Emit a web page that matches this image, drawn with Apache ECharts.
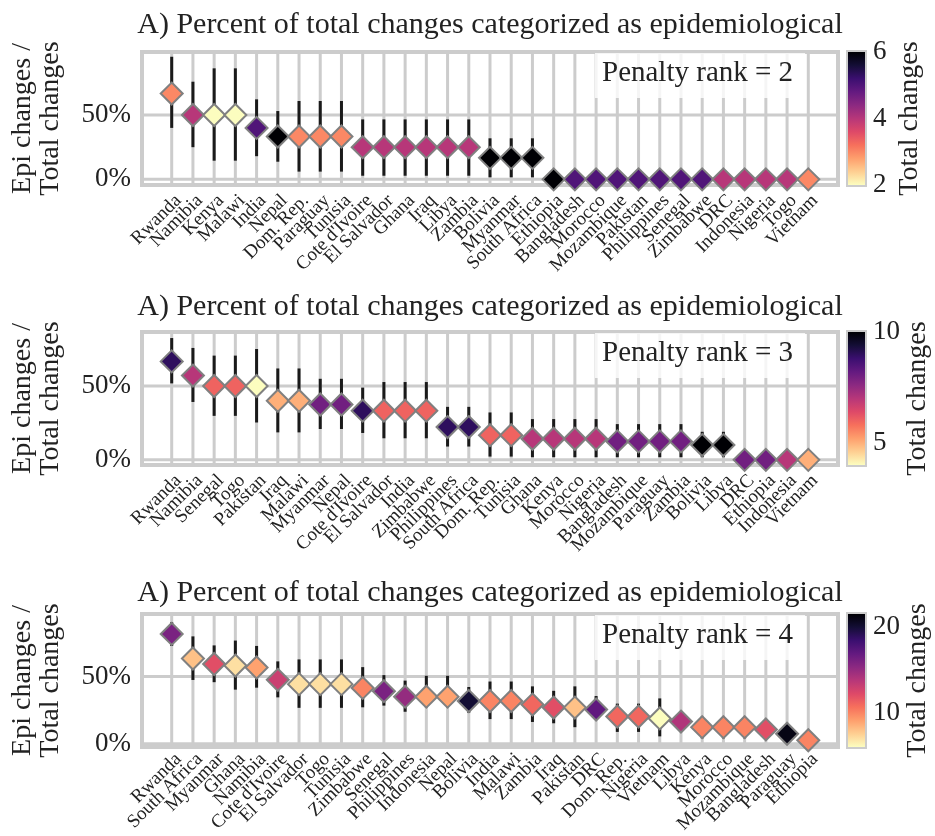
<!DOCTYPE html>
<html><head><meta charset="utf-8">
<script src="https://cdn.jsdelivr.net/npm/echarts@6/dist/echarts.min.js"></script>
<style>html,body{margin:0;padding:0;background:#fff}#c{width:935px;height:836px}</style>
</head><body><div id="c"></div>
<script>
// ---------- Panel 1 (Penalty rank = 2) ----------
const categories1 = ['Rwanda','Namibia','Kenya','Malawi','India','Nepal','Dom. Rep.','Paraguay','Tunisia',"Cote d'Ivoire",'El Salvador','Ghana','Iraq','Libya','Zambia','Bolivia','Myanmar','South Africa','Ethiopia','Bangladesh','Morocco','Mozambique','Pakistan','Philippines','Senegal','Zimbabwe','DRC','Indonesia','Nigeria','Togo','Vietnam'];
const epiShare1 = [0.667,0.5,0.5,0.5,0.4,0.333,0.333,0.333,0.333,0.25,0.25,0.25,0.25,0.25,0.25,0.167,0.167,0.167,0,0,0,0,0,0,0,0,0,0,0,0,0];
const total1 = [3,4,2,2,5,6,3,3,3,4,4,4,4,4,4,6,6,6,6,5,5,5,5,5,5,5,4,4,4,4,3];
const low1 = [0.40,0.25,0.145,0.145,0.18,0.137,0.06,0.06,0.06,0.028,0.028,0.028,0.028,0.028,0.028,0.016,0.016,0.016,0,0,0,0,0,0,0,0,0,0,0,0,0];
const high1 = [0.953,0.759,0.863,0.863,0.622,0.531,0.609,0.609,0.609,0.466,0.466,0.466,0.466,0.466,0.466,0.319,0.319,0.319,0,0,0,0,0,0,0,0,0,0,0,0,0];

// ---------- Panel 2 (Penalty rank = 3) ----------
const categories2 = ['Rwanda','Namibia','Senegal','Togo','Pakistan','Iraq','Malawi','Myanmar','Nepal',"Cote d'Ivoire",'El Salvador','India','Zimbabwe','Philippines','South Africa','Dom. Rep.','Tunisia','Ghana','Kenya','Morocco','Nigeria','Bangladesh','Mozambique','Paraguay','Zambia','Bolivia','Libya','DRC','Ethiopia','Indonesia','Vietnam'];
const epiShare2 = [0.667,0.571,0.5,0.5,0.5,0.4,0.4,0.375,0.375,0.333,0.333,0.333,0.333,0.222,0.222,0.167,0.167,0.143,0.143,0.143,0.143,0.125,0.125,0.125,0.125,0.1,0.1,0,0,0,0];
const total2 = [9,7,6,6,4,5,5,8,8,9,6,6,6,9,9,6,6,7,7,7,7,8,8,8,8,10,10,8,8,7,5];
const low2 = [0.518,0.392,0.298,0.298,0.253,0.186,0.186,0.209,0.209,0.182,0.146,0.146,0.146,0.09,0.09,0.022,0.022,0.018,0.018,0.018,0.018,0.018,0.018,0.018,0.018,0.018,0.018,0,0,0,0];
const high2 = [0.825,0.758,0.706,0.706,0.751,0.619,0.619,0.549,0.549,0.489,0.527,0.527,0.527,0.359,0.359,0.321,0.321,0.276,0.276,0.276,0.276,0.242,0.242,0.242,0.242,0.19,0.19,0,0,0,0];

// ---------- Panel 3 (Penalty rank = 4) ----------
const categories3 = ['Rwanda','South Africa','Myanmar','Ghana','Namibia',"Cote d'Ivoire",'El Salvador','Togo','Tunisia','Zimbabwe','Senegal','Philippines','Indonesia','Nepal','Bolivia','India','Malawi','Zambia','Iraq','Pakistan','DRC','Dom. Rep.','Nigeria','Vietnam','Libya','Kenya','Morocco','Mozambique','Bangladesh','Paraguay','Ethiopia'];
const epiShare3 = [0.8125,0.625,0.583,0.571,0.556,0.462,0.429,0.429,0.429,0.4,0.375,0.333,0.333,0.333,0.3,0.3,0.3,0.273,0.25,0.25,0.235,0.182,0.182,0.167,0.143,0.1,0.1,0.1,0.083,0.05,0];
const total3 = [16,8,12,7,9,13,7,7,7,10,16,15,9,9,20,10,10,11,12,8,17,11,11,6,14,10,10,10,12,21,10];
const low3 = [0.721,0.461,0.444,0.387,0.402,0.328,0.248,0.248,0.248,0.252,0.265,0.218,0.252,0.252,0.21,0.162,0.162,0.14,0.13,0.1,0.17,0.064,0.064,0.03,0.064,0.015,0.015,0.015,0.015,0,0];
const high3 = [0.902,0.794,0.725,0.762,0.721,0.603,0.618,0.618,0.618,0.559,0.498,0.456,0.493,0.493,0.407,0.449,0.449,0.412,0.378,0.412,0.338,0.28,0.28,0.32,0.22,0.18,0.18,0.18,0.16,0,0];

const yTicks = [0, 0.5];
const colorTicks1 = [2,4,6];
const colorTicks2 = [5,10];
const colorTicks3 = [10,20];

// reversed magma colormap (low -> high)
const magmaRev = ['#fcfdbf','#fecf92','#fe9f6d','#f7705c','#de4968','#b73779','#8c2981','#641a80','#3b0f70','#140e36','#000004'];

const FONT = "'Liberation Serif','DejaVu Serif',serif";
const TXT = '#222222';
const GRIDC = '#cccccc';

const panels = [
  {cats:categories1, pct:epiShare1, tot:total1, lo:low1, hi:high1, cmin:2, cmax:6, cticks:colorTicks1, rank:2, top:52, ymin:-0.044, ymax:0.99, titleTop:10},
  {cats:categories2, pct:epiShare2, tot:total2, lo:low2, hi:high2, cmin:4, cmax:10, cticks:colorTicks2, rank:3, top:332, ymin:-0.035, ymax:0.866, titleTop:292},
  {cats:categories3, pct:epiShare3, tot:total3, lo:low3, hi:high3, cmin:6, cmax:21.5, cticks:colorTicks3, rank:4, top:614, ymin:-0.025, ymax:0.965, titleTop:578}
];
const H = 133, L = 142, W = 696, PAD = 1.4;

const option = {animation:false, backgroundColor:'#fff', title:[], grid:[], xAxis:[], yAxis:[], series:[], visualMap:[]};

panels.forEach((p, i) => {
  const g = 3*i, gi = 3*i+1, gc = 3*i+2;
  const n = p.cats.length;
  const unit = W / (n - 1 + 2*PAD);
  // outer frame grid (y labels, horizontal gridlines)
  option.grid.push({left:L, top:p.top, width:W, height:H, show:true, borderColor:GRIDC, borderWidth:4, backgroundColor:'#fff'});
  // inner category grid (marks and country labels)
  option.grid.push({left:L + (PAD-0.5)*unit, top:p.top, width:n*unit, height:H, show:false});
  // colorbar grid
  option.grid.push({left:848, top:p.top, width:17, height:H, show:true, borderColor:GRIDC, borderWidth:4, backgroundColor:'#fff'});

  option.title.push({text:'A) Percent of total changes categorized as epidemiological', left:490, top:p.titleTop, textAlign:'center', padding:0,
    textStyle:{fontFamily:FONT, fontSize:30, fontWeight:'normal', color:TXT}});
  option.title.push({text:'Penalty rank = ' + p.rank, left:595, top:p.top+1, padding:[6,12,10,7], backgroundColor:'rgba(255,255,255,0.8)',
    textStyle:{fontFamily:FONT, fontSize:29, fontWeight:'normal', color:TXT}});

  // outer axes
  option.xAxis.push({type:'value', gridIndex:g, min:0, max:1, show:false});
  option.yAxis.push({type:'value', gridIndex:g, min:p.ymin, max:p.ymax,
    axisLine:{show:false}, axisTick:{show:false}, splitLine:{show:false},
    axisLabel:{customValues:yTicks, formatter:(v)=>Math.round(v*100)+'%', fontFamily:FONT, fontSize:27, color:TXT, margin:11, showMinLabel:true, showMaxLabel:true},
    name:'Epi changes /\nTotal changes', nameLocation:'middle', nameGap:77,
    nameTextStyle:{fontFamily:FONT, fontSize:28, color:TXT, lineHeight:28}});
  // inner axes
  option.xAxis.push({type:'category', gridIndex:gi, data:p.cats, boundaryGap:true,
    axisLine:{show:false}, axisTick:{show:false}, splitLine:{show:false},
    axisLabel:{interval:0, rotate:45, fontFamily:FONT, fontSize:19, color:TXT, margin:6, verticalAlign:'top'}});
  option.yAxis.push({type:'value', gridIndex:gi, min:p.ymin, max:p.ymax, show:false});
  // colorbar axes
  option.xAxis.push({type:'value', gridIndex:gc, min:0, max:1, show:false});
  option.yAxis.push({type:'value', gridIndex:gc, position:'right', min:p.cmin, max:p.cmax,
    axisLine:{show:false}, axisTick:{show:false}, splitLine:{show:false},
    axisLabel:{customValues:p.cticks, fontFamily:FONT, fontSize:27, color:TXT, margin:8, showMinLabel:true, showMaxLabel:true},
    name:'Total changes', nameLocation:'middle', nameRotate:90, nameGap:31,
    nameTextStyle:{fontFamily:FONT, fontSize:28, color:TXT}});

  // horizontal gridlines at y ticks (outer grid)
  option.series.push({type:'custom', xAxisIndex:g, yAxisIndex:g, z:1, silent:true,
    data:yTicks.map(v=>[0, v]),
    renderItem:(params, api)=>{
      const cs = params.coordSys; const y = api.coord([0, api.value(1)])[1];
      return {type:'line', shape:{x1:cs.x, y1:y, x2:cs.x+cs.width, y2:y}, style:{stroke:GRIDC, lineWidth:3}};
    }});
  // vertical gridlines at each category
  option.series.push({type:'custom', xAxisIndex:gi, yAxisIndex:gi, z:1, silent:true,
    data:p.cats.map((c,j)=>[j, 0]),
    renderItem:(params, api)=>{
      const cs = params.coordSys; const x = api.coord([api.value(0), 0])[0];
      return {type:'line', shape:{x1:x, y1:cs.y, x2:x, y2:cs.y+cs.height}, style:{stroke:GRIDC, lineWidth:3}};
    }});
  // error bars
  option.series.push({type:'custom', xAxisIndex:gi, yAxisIndex:gi, z:2, silent:true,
    data:p.cats.map((c,j)=>[j, p.lo[j], p.hi[j]]),
    renderItem:(params, api)=>{
      const a = api.coord([api.value(0), api.value(1)]);
      const b = api.coord([api.value(0), api.value(2)]);
      return {type:'line', shape:{x1:a[0], y1:a[1], x2:b[0], y2:b[1]}, style:{stroke:'#1a1a1a', lineWidth:3}};
    }});
  // diamonds
  const scatterIndex = option.series.length;
  option.series.push({type:'scatter', xAxisIndex:gi, yAxisIndex:gi, z:3, symbol:'diamond', symbolSize:22,
    itemStyle:{borderColor:'#808080', borderWidth:2, opacity:1},
    data:p.cats.map((c,j)=>[j, p.pct[j], p.tot[j]])});
  option.visualMap.push({show:false, type:'continuous', seriesIndex:scatterIndex, dimension:2, min:p.cmin, max:p.cmax, inRange:{color:magmaRev}});
  // colorbar
  option.series.push({type:'custom', xAxisIndex:gc, yAxisIndex:gc, z:1, silent:true,
    data:[[0, p.cmin, 1, p.cmax]],
    renderItem:(params, api)=>{
      const tl = api.coord([api.value(0), api.value(3)]);
      const br = api.coord([api.value(2), api.value(1)]);
      const stops = magmaRev.slice().reverse().map((c,k,arr)=>({offset:k/(arr.length-1), color:c}));
      return {type:'rect', shape:{x:tl[0], y:tl[1], width:br[0]-tl[0], height:br[1]-tl[1]},
        style:{fill:new echarts.graphic.LinearGradient(0,0,0,1,stops)}};
    }});
});

const chart = echarts.init(document.getElementById('c'), null, {renderer:'canvas'});
chart.setOption(option);
</script>
</body></html>
